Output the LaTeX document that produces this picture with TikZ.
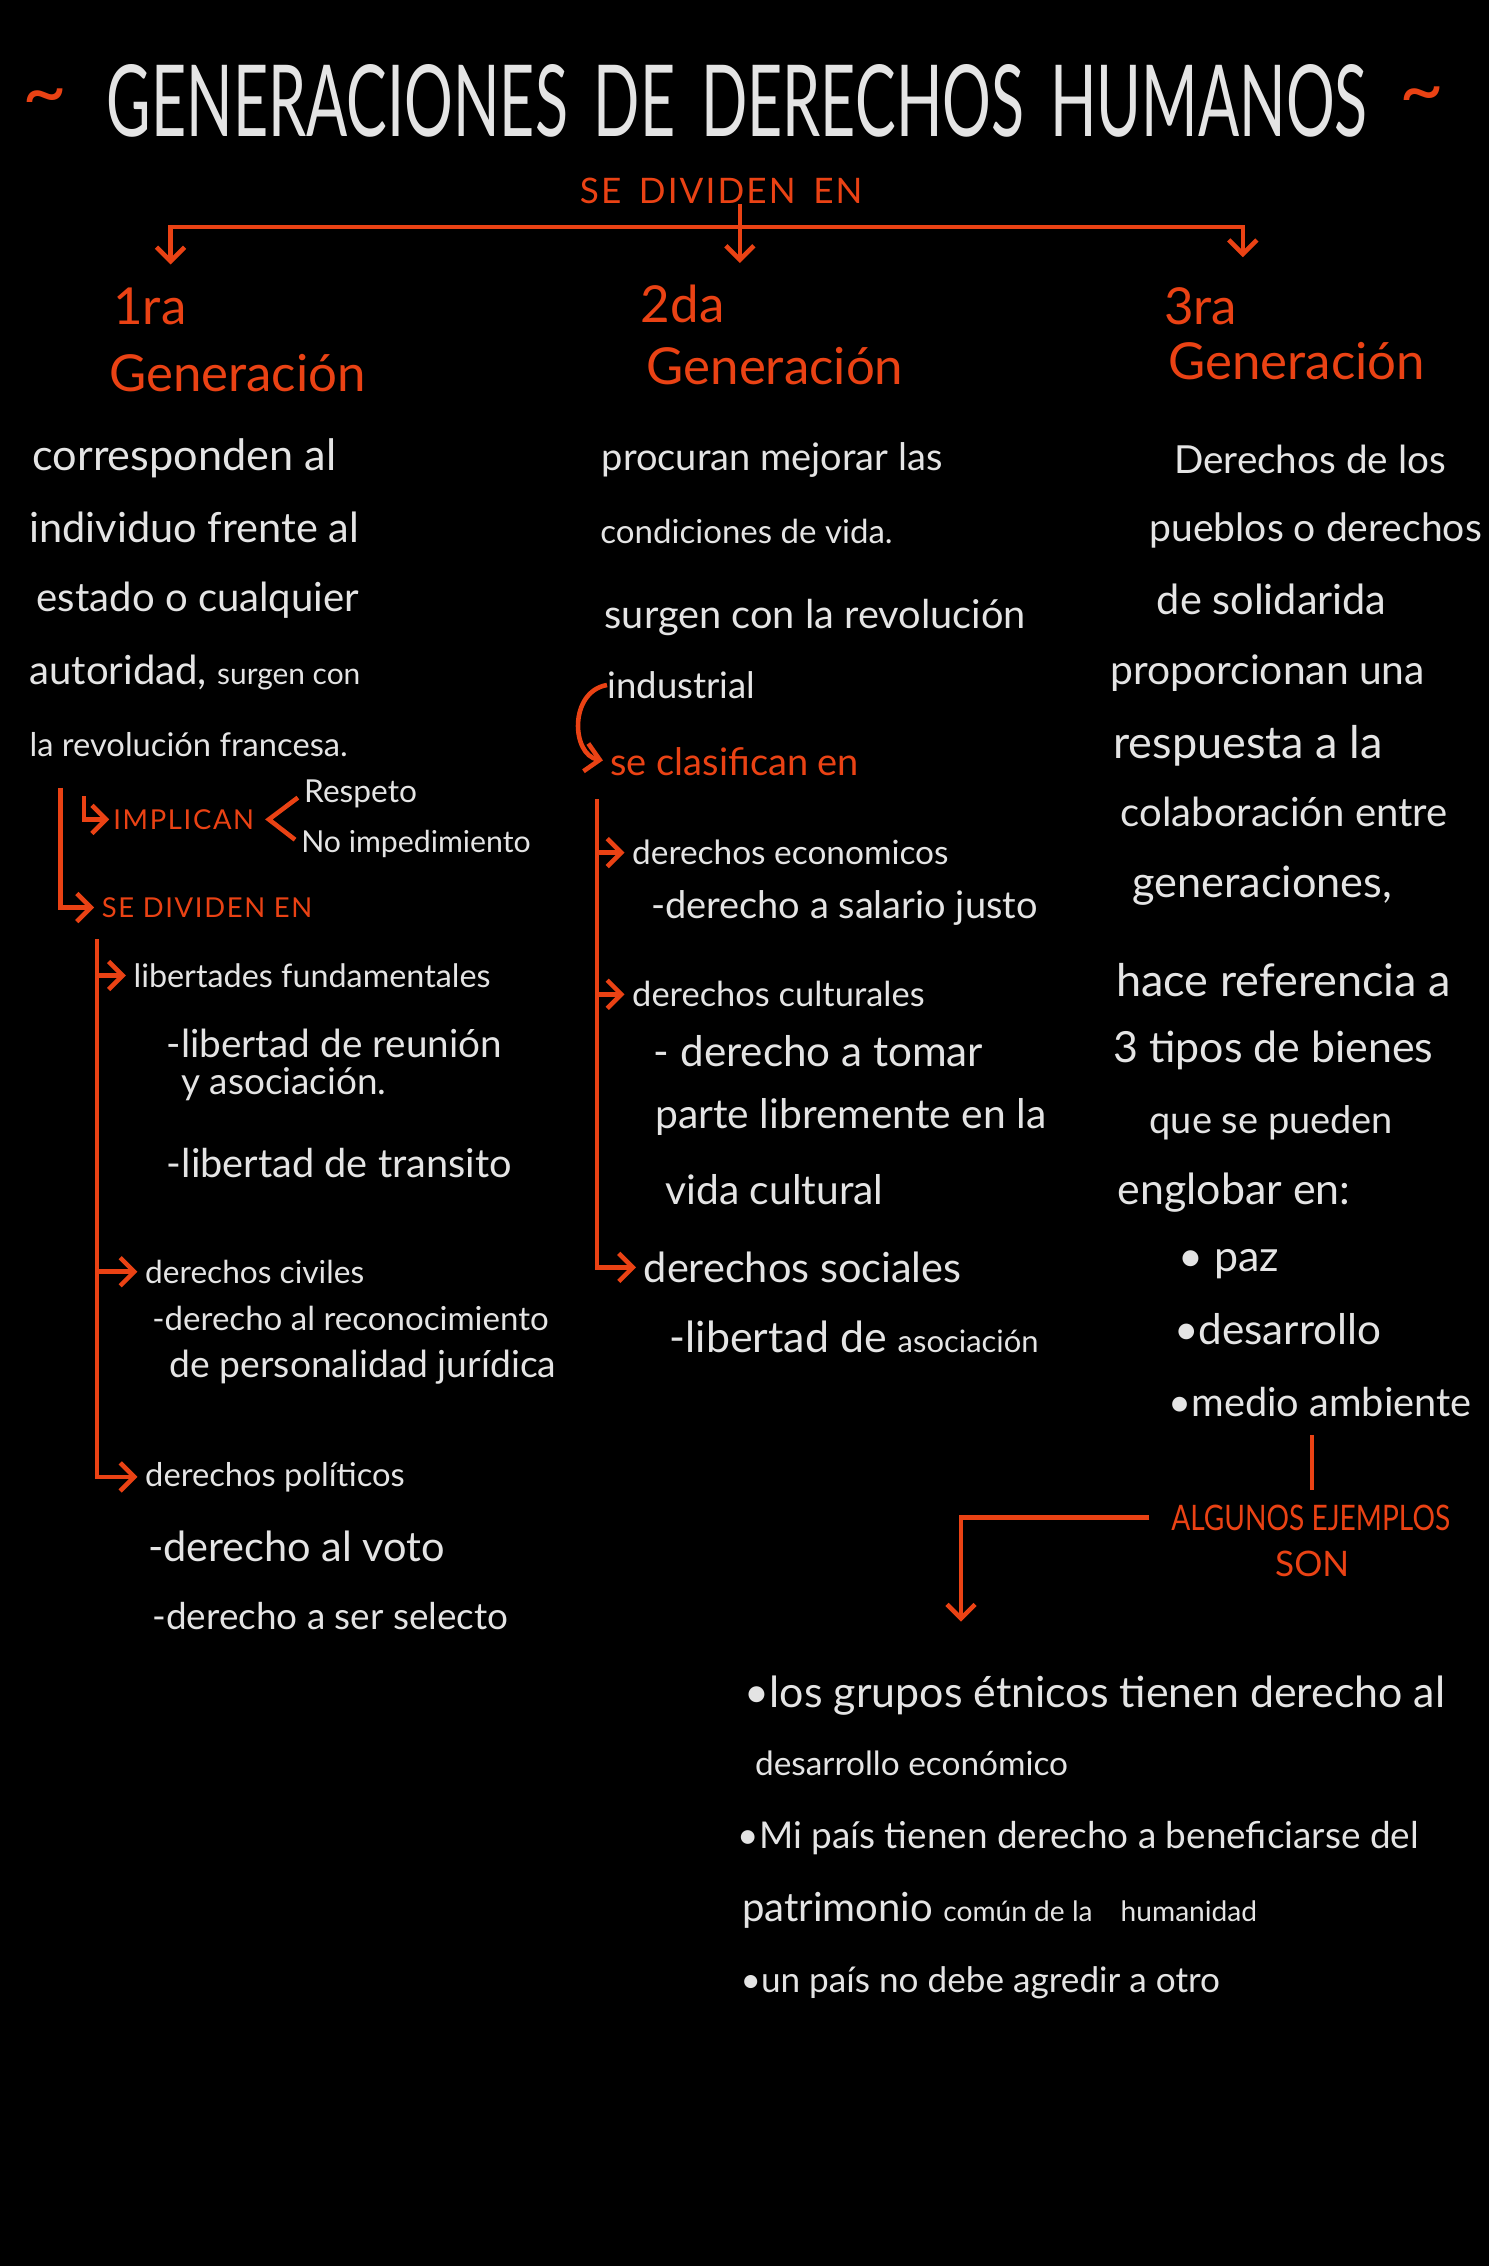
\documentclass[tikz,border=0pt]{standalone}
\usepackage{fontspec}
\usepackage{graphicx}
\usetikzlibrary{arrows.meta}
\setmainfont{Lato}
\newfontfamily\capsfont[LetterSpace=6]{Lato}
\definecolor{chalk}{RGB}{228,228,228}
\definecolor{chalkred}{RGB}{234,66,20}
\newcommand{\fsz}[1]{\fontsize{#1}{#1}\selectfont}
\tikzset{
  txt/.style={anchor=west, inner sep=0pt, text=chalk, font=\fsz{11.8}},
  redtxt/.style={txt, text=chalkred},
  head/.style={redtxt, font=\fsz{14.5}},
  redline/.style={draw=chalkred, line width=1.3pt},
  link/.style={redline, shorten >=2pt, -{Straight Barb[length=4pt,width=8pt]}},
}
\begin{document}
\begin{tikzpicture}[x=0.014447cm, y=-0.014447cm]
  \path[fill=black, use as bounding box] (0,0) rectangle (1030,1568);
  % title
  \node[inner sep=0pt, text=chalk] (title) at (510,70) {\resizebox{12.6cm}{0.72cm}{GENERACIONES\, DE\, DERECHOS\, HUMANOS}};
  \node[redtxt, anchor=center, font=\fsz{22}] (tl) at (31,72) {\textasciitilde};
  \node[redtxt, anchor=center, font=\fsz{22}] (tr) at (984,70) {\textasciitilde};
  \node[redtxt, anchor=center, font=\capsfont\fsz{10}] (sediv) at (499,132) {SE\enspace DIVIDEN\enspace EN};
  \coordinate (bar) at (512,157);
  \coordinate (g1top) at (118,183);
  \coordinate (g2top) at (512,182);
  \coordinate (g3top) at (860,178);
  \draw[redline, {Straight Barb[length=4pt,width=8pt]}-{Straight Barb[length=4pt,width=8pt]}] (g1top) -- (g1top |- bar) -- (g3top |- bar) -- (g3top);
  \draw[link, shorten >=0pt] (sediv.south -| bar) -- (g2top);
  % headings
  \node[head] (n1) at (78,212) {1ra};
  \node[head] (g1) at (75,258) {Generación};
  \node[head] (n2) at (443,210) {2da};
  \node[head] (g2) at (447,253) {Generación};
  \node[head] (n3) at (805,212) {3ra};
  \node[head] (g3) at (808,250) {Generación};
  % first column
  \node[txt, font=\fsz{12.3}] (c1a) at (22,317) {corresponden al};
  \node[txt] (c1b) at (20,365) {individuo frente al};
  \node[txt, font=\fsz{11.4}] (c1c) at (25,415) {estado o cualquier};
  \node[txt, font=\fsz{11.4}] (c1d) at (20,465) {autoridad, {\fsz{8.5}surgen con}};
  \node[txt, font=\fsz{9.3}] (c1e) at (20,515) {la revolución francesa.};
  \node[redtxt, font=\capsfont\fsz{7.8}] (impl) at (78,567) {IMPLICAN};
  \coordinate (hook) at (58,551);
  \draw[link, shorten >=1pt] (hook) |- (impl.west);
  \node[txt, font=\fsz{9}] (resp) at (210,549) {Respeto};
  \node[txt, font=\fsz{8.6}] (noimp) at (208,584) {No impedimiento};
  \coordinate (tip) at ([xshift=4pt]impl.east);
  \draw[redline, shorten <=2pt, shorten >=2pt] (resp.west) -- (tip) -- (noimp.west);
  \node[redtxt, font=\capsfont\fsz{7.8}] (div1) at (70,628) {SE DIVIDEN EN};
  \coordinate (sp1) at (42,545);
  \draw[link] (sp1) |- (div1.west);
  \node[txt, font=\fsz{9.2}] (lib) at (92,675) {libertades fundamentales};
  \node[txt, font=\fsz{11}] (lib1) at (115,722) {-libertad de reunión};
  \node[txt, font=\fsz{10.5}] (lib1b) at (125,750) {y asociación.};
  \node[txt, font=\fsz{11.3}] (lib2) at (115,805) {-libertad de transito};
  \node[txt, font=\fsz{9}] (civ) at (100,880) {derechos civiles};
  \node[txt, font=\fsz{9.4}] (civ1) at (105,912) {-derecho al reconocimiento};
  \node[txt, font=\fsz{10.6}] (civ2) at (117,946) {de personalidad jurídica};
  \node[txt, font=\fsz{9.3}] (pol) at (100,1022) {derechos políticos};
  \node[txt, font=\fsz{11.8}] (pol1) at (102,1070) {-derecho al voto};
  \node[txt, font=\fsz{10.5}] (pol2) at (105,1118) {-derecho a ser selecto};
  \coordinate (sp2) at (67,650);
  \draw[link] (sp2) |- (pol.west);
  \draw[link] (sp2 |- lib.west) -- (lib.west);
  \draw[link] (sp2 |- civ.west) -- (civ.west);
  % second column
  \node[txt, font=\fsz{10.8}] (c2a) at (416,318) {procuran mejorar las};
  \node[txt, font=\fsz{9.4}] (c2b) at (415,368) {condiciones de vida.};
  \node[txt, font=\fsz{11.3}] (c2c) at (418,427) {surgen con la revolución};
  \node[txt, font=\fsz{10.4}] (c2d) at (420,474) {industrial};
  \node[redtxt, font=\fsz{10.8}] (clas) at (422,527) {se clasifican en};
  \draw[link] (c2d.west) to[out=190, in=170, looseness=1.3] (clas.west);
  \node[txt, font=\fsz{9.5}] (eco) at (437,590) {derechos economicos};
  \node[txt, font=\fsz{10.8}] (eco1) at (450,628) {-derecho a salario justo};
  \node[txt, font=\fsz{9.8}] (cul) at (437,688) {derechos culturales};
  \node[txt, font=\fsz{12}] (cul1) at (452,727) {- derecho a tomar};
  \node[txt, font=\fsz{11.6}] (cul2) at (453,773) {parte libremente en la};
  \node[txt, font=\fsz{11.6}] (cul3) at (460,823) {vida cultural};
  \node[txt, font=\fsz{11.8}] (soc) at (445,877) {derechos sociales};
  \node[txt, font=\fsz{12.2}] (soc1) at (463,925) {-libertad de {\fsz{8.8}asociación}};
  \coordinate (sp3) at (413,553);
  \draw[link] (sp3) |- (soc.west);
  \draw[link] (sp3 |- eco.west) -- (eco.west);
  \draw[link] (sp3 |- cul.west) -- (cul.west);
  % third column
  \node[txt, font=\fsz{11}] (c3a) at (812,318) {Derechos de los};
  \node[txt, font=\fsz{11.1}] (c3b) at (795,367) {pueblos o derechos};
  \node[txt] (c3c) at (800,415) {de solidarida};
  \node[txt, font=\fsz{11.6}] (c3d) at (768,466) {proporcionan una};
  \node[txt, font=\fsz{12.8}] (c3e) at (770,516) {respuesta a la};
  \node[txt, font=\fsz{11.4}] (c3f) at (775,562) {colaboración entre};
  \node[txt, font=\fsz{12.3}] (c3g) at (783,613) {generaciones,};
  \node[txt, font=\fsz{12.8}] (c3h) at (772,678) {hace referencia a};
  \node[txt, font=\fsz{12.2}] (c3i) at (770,727) {3 tipos de bienes};
  \node[txt, font=\fsz{10.8}] (c3j) at (795,777) {que se pueden};
  \node[txt, font=\fsz{12.2}] (c3k) at (773,825) {englobar en:};
  \node[txt, font=\fsz{12.2}] (paz) at (815,875) {• paz};
  \node[txt, font=\fsz{12}] (des) at (812,920) {•desarrollo};
  \node[txt, font=\fsz{11.3}] (med) at (808,970) {•medio ambiente};
  \node[redtxt, font=\fsz{10}] (ej) at (810,1050) {\scalebox{0.8}[1]{ALGUNOS EJEMPLOS}};
  \node[redtxt, anchor=center, font=\fsz{10}] (son) at (908,1082) {SON};
  \draw[redline, shorten <=5pt, shorten >=4pt] (med.south -| son) -- (ej.north -| son);
  \coordinate (ejend) at (665,1127);
  \draw[link, shorten <=6pt] (ej.west) -| (ejend);
  % examples
  \node[txt, font=\fsz{12.2}] (b1) at (515,1173) {•los grupos étnicos tienen derecho al};
  \node[txt, font=\fsz{9.5}] (b2) at (522,1220) {desarrollo económico};
  \node[txt, font=\fsz{10.5}] (b3) at (510,1272) {•Mi país tienen derecho a beneficiarse del};
  \node[txt, font=\fsz{11.4}] (b4) at (513,1322) {patrimonio {\fsz{8}común de la\quad humanidad}};
  \node[txt, font=\fsz{10}] (b5) at (512,1372) {•un país no debe agredir a otro};
\end{tikzpicture}
\end{document}
